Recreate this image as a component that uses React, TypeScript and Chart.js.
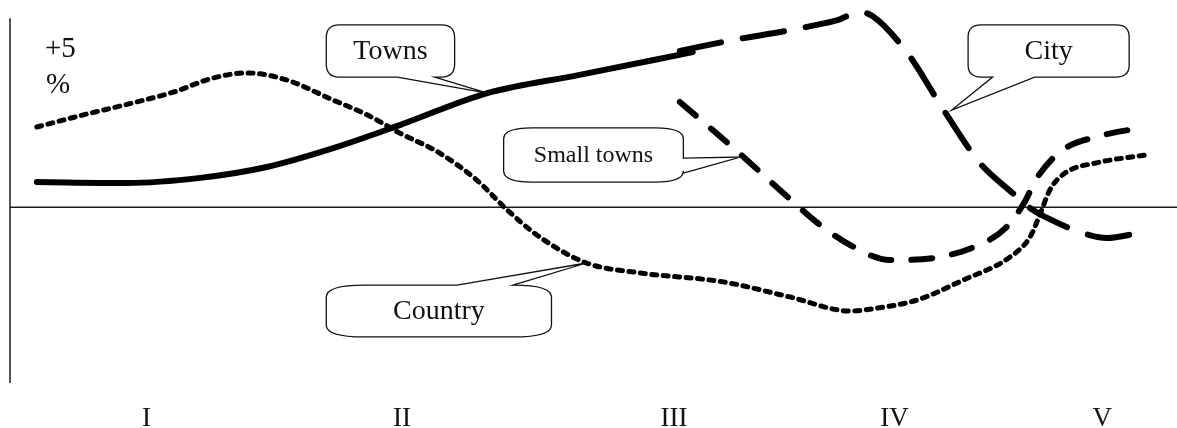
import React, { useEffect, useRef } from "react";
import { Chart, registerables } from "chart.js";

Chart.register(...registerables);

// ---- Data (x: position along the period axis 0..100, y: change in %) ----
const periodTicks = [11.7, 33.6, 56.9, 75.8, 93.6];
const periodLabels = ["I", "II", "III", "IV", "V"];

const yLabelValue = 5;
const yLabelText = "+5";
const yUnitText = "%";

const townsX = [2.3, 10.0, 16.3, 22.0, 27.7, 33.4, 40.9, 48.8, 58.5];
const townsY = [0.78, 0.75, 0.91, 1.25, 1.84, 2.56, 3.56, 4.13, 4.84];

const cityX = [57.4, 62.0, 66.0, 68.7, 70.9, 72.8, 73.9, 76.9, 79.9, 83.1, 85.9, 87.4, 88.7, 92.5, 94.0, 96.8];
const cityY = [4.88, 5.22, 5.47, 5.66, 5.84, 6.09, 5.97, 4.81, 3.09, 1.38, 0.44, -0.03, -0.31, -0.88, -0.97, -0.81];

const smallX = [57.4, 62.0, 67.2, 69.2, 72.0, 75.4, 79.2, 82.6, 85.3, 86.9, 88.0, 90.2, 93.4, 96.8];
const smallY = [3.28, 1.84, 0.13, -0.5, -1.19, -1.66, -1.59, -1.25, -0.66, 0.13, 0.91, 1.78, 2.22, 2.47];

const countryX = [2.3, 6.3, 10.5, 14.0, 17.4, 20.3, 23.7, 27.7, 30.6, 33.4, 36.8, 40.0, 42.6, 45.4, 49.4, 54.0, 61.1, 66.8, 72.0, 74.3, 77.7, 81.7, 85.7, 87.4, 88.3, 89.1, 90.4, 93.1, 97.4];
const countryY = [2.5, 2.88, 3.25, 3.59, 4.03, 4.19, 3.97, 3.34, 2.88, 2.31, 1.69, 0.84, -0.09, -0.94, -1.75, -2.06, -2.34, -2.81, -3.25, -3.16, -2.91, -2.28, -1.56, -0.94, -0.19, 0.53, 1.06, 1.38, 1.63];

// ---- Annotation callouts (in data units) ----
type Callout = {
  text: string;
  size: number;
  box: [number, number, number, number]; // xLeft, yTop, xRight, yBottom
  r: [number, number];
  side: "top" | "bottom" | "right";
  base: [number, number];
  tip: [number, number];
};

const callouts: Callout[] = [
  { text: "Towns", size: 28, box: [27.1, 5.69, 38.1, 4.06], r: [13, 13], side: "bottom", base: [33.2, 36.4], tip: [40.9, 3.56] },
  { text: "Small towns", size: 24, box: [42.3, 2.47, 57.7, 0.78], r: [28, 11], side: "right", base: [1.53, 1.06], tip: [62.6, 1.56] },
  { text: "City", size: 28, box: [82.1, 5.69, 95.9, 4.06], r: [13, 12], side: "bottom", base: [84.2, 87.8], tip: [80.7, 3.03] },
  { text: "Country", size: 28, box: [27.1, -2.44, 46.4, -4.06], r: [38, 12], side: "top", base: [38.3, 43.1], tip: [49.4, -1.75] },
];

const AXIS_TOP = 5.9;
const SERIF = '"Liberation Serif", "Times New Roman", serif';

function drawCallout(ctx: CanvasRenderingContext2D, chart: any, c: Callout) {
  const xs = chart.scales.x;
  const ys = chart.scales.y;
  const x0 = xs.getPixelForValue(c.box[0]);
  const y0 = ys.getPixelForValue(c.box[1]);
  const x1 = xs.getPixelForValue(c.box[2]);
  const y1 = ys.getPixelForValue(c.box[3]);
  const [rx, ry] = c.r;
  const tx = xs.getPixelForValue(c.tip[0]);
  const ty = ys.getPixelForValue(c.tip[1]);
  let b0: number, b1: number;
  if (c.side === "right") {
    b0 = ys.getPixelForValue(c.base[0]);
    b1 = ys.getPixelForValue(c.base[1]);
  } else {
    b0 = xs.getPixelForValue(c.base[0]);
    b1 = xs.getPixelForValue(c.base[1]);
  }
  const lo = Math.min(b0, b1);
  const hi = Math.max(b0, b1);

  ctx.beginPath();
  ctx.moveTo(x0 + rx, y0);
  if (c.side === "top") {
    ctx.lineTo(lo, y0);
    ctx.lineTo(tx, ty);
    ctx.lineTo(hi, y0);
  }
  ctx.lineTo(x1 - rx, y0);
  ctx.quadraticCurveTo(x1, y0, x1, y0 + ry);
  if (c.side === "right") {
    ctx.lineTo(x1, lo);
    ctx.lineTo(tx, ty);
    ctx.lineTo(x1, hi);
  }
  ctx.lineTo(x1, y1 - ry);
  ctx.quadraticCurveTo(x1, y1, x1 - rx, y1);
  if (c.side === "bottom") {
    ctx.lineTo(hi, y1);
    ctx.lineTo(tx, ty);
    ctx.lineTo(lo, y1);
  }
  ctx.lineTo(x0 + rx, y1);
  ctx.quadraticCurveTo(x0, y1, x0, y1 - ry);
  ctx.lineTo(x0, y0 + ry);
  ctx.quadraticCurveTo(x0, y0, x0 + rx, y0);
  ctx.closePath();
  ctx.fillStyle = "#ffffff";
  ctx.fill();
  ctx.lineWidth = 1.3;
  ctx.lineJoin = "miter";
  ctx.strokeStyle = "#111";
  ctx.stroke();

  ctx.fillStyle = "#111";
  ctx.font = `${c.size}px ${SERIF}`;
  ctx.textAlign = "center";
  ctx.textBaseline = "middle";
  ctx.fillText(c.text, (x0 + x1) / 2, (y0 + y1) / 2 + 1);
}

const decorPlugin = {
  id: "decor",
  beforeDatasetsDraw(chart: any) {
    const { ctx, chartArea } = chart;
    const ys = chart.scales.y;
    ctx.save();
    ctx.strokeStyle = "#1a1a1a";
    ctx.lineWidth = 1.5;
    const zy = Math.round(ys.getPixelForValue(0)) + 0.25;
    ctx.beginPath();
    ctx.moveTo(chartArea.left, zy);
    ctx.lineTo(chartArea.right, zy);
    ctx.stroke();
    ctx.beginPath();
    ctx.moveTo(chartArea.left, ys.getPixelForValue(AXIS_TOP));
    ctx.lineTo(chartArea.left, chartArea.bottom);
    ctx.stroke();

    const ly = ys.getPixelForValue(yLabelValue);
    ctx.fillStyle = "#111";
    ctx.font = `29px ${SERIF}`;
    ctx.textAlign = "left";
    ctx.textBaseline = "alphabetic";
    ctx.fillText(yLabelText, chartArea.left + 35, ly + 10);
    ctx.fillText(yUnitText, chartArea.left + 36, ly + 46);
    ctx.restore();
  },
  afterDatasetsDraw(chart: any) {
    const { ctx } = chart;
    ctx.save();
    callouts.forEach((c) => drawCallout(ctx, chart, c));
    ctx.restore();
  },
};

function series(label: string, xs: number[], ys: number[], extra: any) {
  return {
    label,
    data: xs.map((v, i) => ({ x: v, y: ys[i] })),
    borderColor: "#000",
    backgroundColor: "#000",
    borderWidth: 6,
    pointRadius: 0,
    pointHoverRadius: 0,
    fill: false,
    cubicInterpolationMode: "monotone",
    borderCapStyle: "round",
    borderJoinStyle: "round",
    clip: false,
    ...extra,
  };
}

export default function App() {
  const ref = useRef<HTMLCanvasElement>(null);

  useEffect(() => {
    document.body.style.margin = "0";
    const chart = new Chart(ref.current as HTMLCanvasElement, {
      type: "line",
      data: {
        datasets: [
          series("Country", countryX, countryY, { borderWidth: 5, borderDash: [5, 6.5] }),
          series("Towns", townsX, townsY, {}),
          series("City", cityX, cityY, { borderDash: [42, 22] }),
          series("Small towns", smallX, smallY, { borderDash: [21, 20] }),
        ] as any,
      },
      options: {
        animation: false,
        responsive: false,
        devicePixelRatio: 1,
        layout: { padding: { left: 10, right: 0, top: 0, bottom: 0 } },
        plugins: {
          legend: { display: false },
          tooltip: { enabled: false },
        },
        events: [],
        scales: {
          x: {
            type: "linear",
            min: 0,
            max: 100,
            grid: { display: false },
            border: { display: false },
            afterBuildTicks: (scale: any) => {
              scale.ticks = periodTicks.map((v) => ({ value: v }));
            },
            afterFit: (scale: any) => {
              scale.height = 45;
            },
            ticks: {
              autoSkip: false,
              maxRotation: 0,
              padding: 12,
              color: "#111",
              font: { family: SERIF, size: 27 },
              callback: (_v: any, i: number) => periodLabels[i],
            },
          },
          y: {
            type: "linear",
            display: false,
            min: -5.5,
            max: 6.46875,
          },
        },
      },
      plugins: [decorPlugin],
    });
    return () => chart.destroy();
  }, []);

  return (
    <div style={{ width: 1177, height: 428, background: "#fff" }}>
      <canvas ref={ref} width={1177} height={428} style={{ display: "block" }} />
    </div>
  );
}
